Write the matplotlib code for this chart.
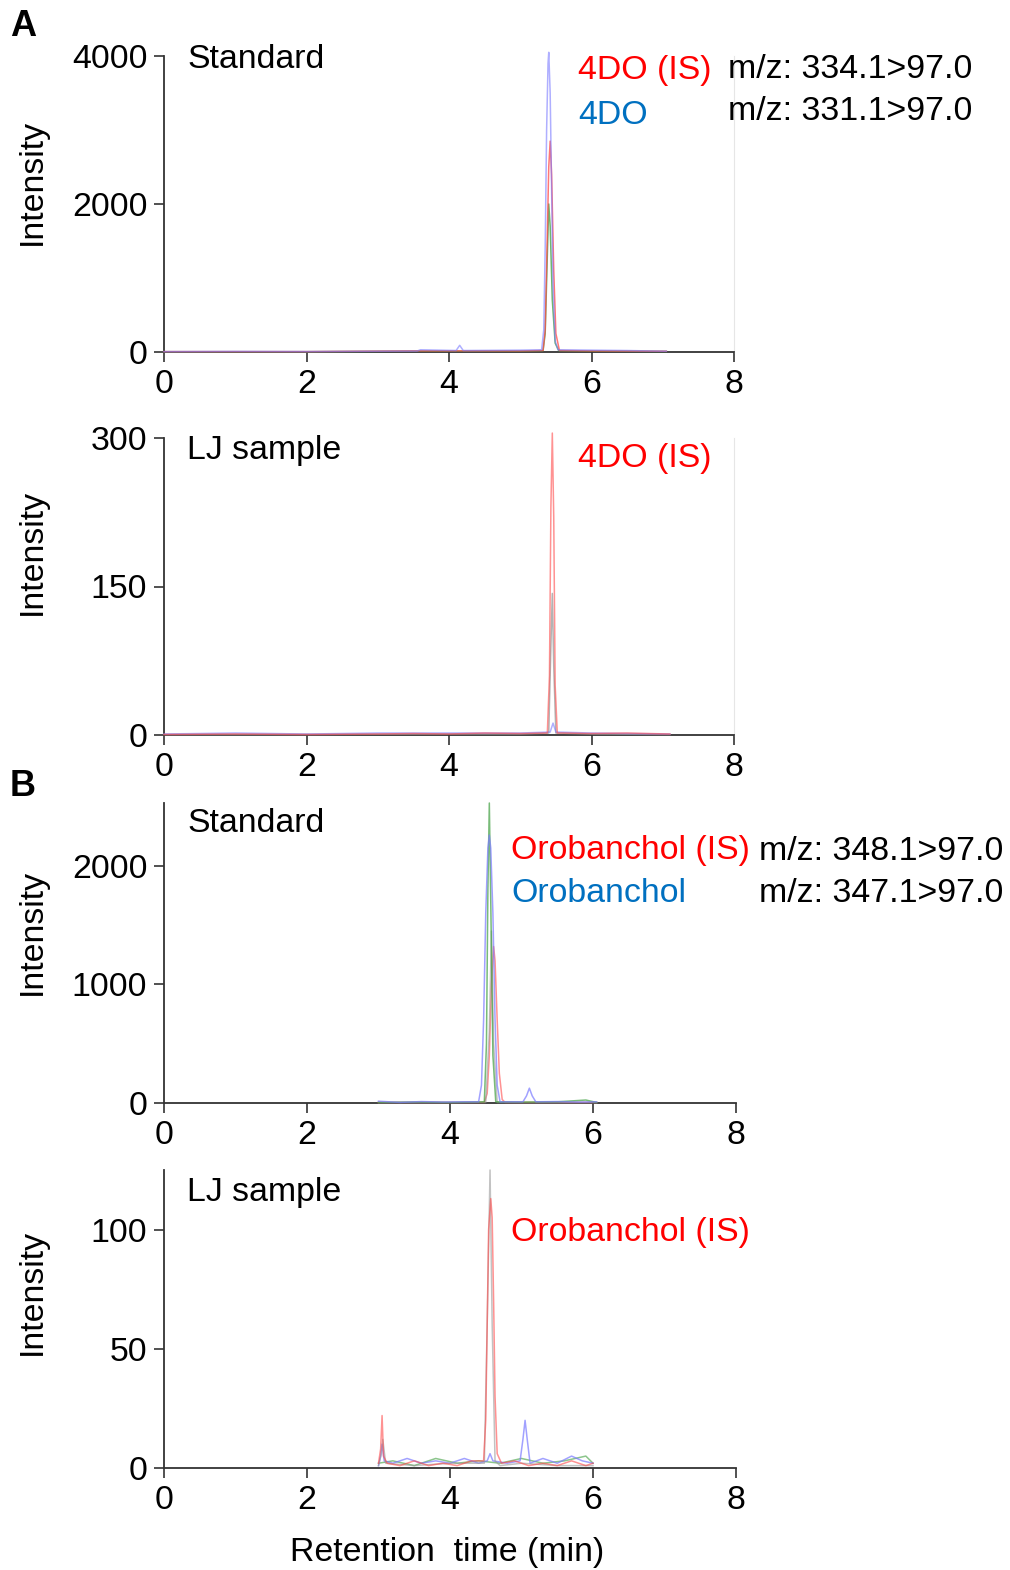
import matplotlib
matplotlib.use("Agg")
import matplotlib.pyplot as plt

plt.rcParams['font.family'] = ['Liberation Sans', 'DejaVu Sans']

# ---------------- data (retention time, min / intensity) ----------------
# Panel A1: 4DO standard
a1_blue_t = [0.0, 1.0, 2.0, 3.0, 3.55, 3.6, 4.1, 4.15, 4.2, 5.0, 5.30, 5.33, 5.35, 5.37, 5.39, 5.40, 5.42, 5.44, 5.46, 5.49, 5.53, 6.0, 6.5, 7.05]
a1_blue_i = [5, 8, 6, 10, 12, 30, 20, 90, 20, 25, 30, 300, 1400, 3000, 3900, 4050, 3500, 2200, 900, 150, 30, 25, 20, 10]
a1_red_t = [0.0, 2.0, 3.5, 5.0, 5.32, 5.35, 5.38, 5.40, 5.42, 5.44, 5.47, 5.50, 5.55, 6.0, 7.05]
a1_red_i = [5, 5, 15, 15, 20, 300, 1600, 2500, 2850, 2400, 1100, 250, 20, 15, 10]
a1_green_t = [0.0, 2.0, 3.5, 5.0, 5.32, 5.35, 5.38, 5.40, 5.42, 5.45, 5.49, 5.54, 6.0, 7.05]
a1_green_i = [4, 4, 12, 12, 18, 250, 1300, 2000, 1700, 700, 120, 18, 12, 8]

# Panel A2: LJ sample (4DO)
a2_red_t = [0.0, 1.0, 2.0, 3.0, 3.5, 4.0, 4.5, 5.0, 5.38, 5.41, 5.43, 5.45, 5.47, 5.49, 5.52, 5.6, 6.0, 6.5, 7.1]
a2_red_i = [0.5, 1, 0.5, 1, 1.5, 1, 2, 1.5, 2, 60, 230, 305, 220, 50, 2, 2, 1.5, 2, 1]
a2_gray_t = [0.0, 2.0, 4.0, 5.0, 5.40, 5.43, 5.45, 5.47, 5.50, 6.0, 7.1]
a2_gray_i = [0.5, 0.5, 1, 1, 2, 90, 143, 70, 2, 1, 0.5]
a2_blue_t = [0.0, 1.0, 2.0, 3.0, 4.0, 5.0, 5.42, 5.46, 5.50, 6.0, 7.1]
a2_blue_i = [1, 2, 1, 2, 2, 2, 3, 12, 3, 2, 1]

# Panel B1: orobanchol standard
b1_blue_t = [3.0, 3.3, 3.6, 3.9, 4.2, 4.40, 4.44, 4.47, 4.50, 4.53, 4.55, 4.57, 4.60, 4.63, 4.66, 4.70, 4.8, 5.02, 5.07, 5.11, 5.15, 5.20, 5.5, 5.8, 6.05]
b1_blue_i = [15, 5, 12, 8, 10, 10, 150, 700, 1600, 2150, 2260, 2150, 1600, 700, 150, 10, 10, 10, 60, 125, 60, 10, 12, 8, 10]
b1_red_t = [3.0, 3.5, 4.0, 4.48, 4.52, 4.55, 4.58, 4.61, 4.63, 4.66, 4.69, 4.73, 4.77, 5.0, 5.5, 6.05]
b1_red_i = [5, 5, 5, 5, 80, 400, 1000, 1320, 1200, 700, 250, 30, 5, 5, 5, 5]
b1_green_t = [3.0, 3.5, 4.0, 4.48, 4.51, 4.53, 4.55, 4.57, 4.60, 4.64, 5.0, 5.5, 5.9, 6.05]
b1_green_i = [5, 8, 5, 10, 500, 1800, 2530, 1700, 400, 10, 8, 10, 25, 5]
b1_gray_t = [3.0, 4.0, 4.50, 4.55, 4.58, 4.61, 4.66, 5.0, 6.05]
b1_gray_i = [3, 3, 5, 600, 1450, 500, 5, 3, 3]

# Panel B2: LJ sample (orobanchol)
b2_red_t = [3.0, 3.03, 3.05, 3.07, 3.12, 3.3, 3.5, 3.7, 3.9, 4.1, 4.3, 4.47, 4.50, 4.52, 4.54, 4.57, 4.59, 4.61, 4.63, 4.66, 4.72, 4.9, 5.1, 5.3, 5.5, 5.7, 5.9, 6.0]
b2_red_i = [2, 8, 22, 5, 2, 1, 3, 1, 2, 1, 3, 3, 20, 60, 100, 113, 105, 70, 30, 6, 2, 3, 1, 2, 1, 3, 1, 2]
b2_gray_t = [3.0, 3.04, 3.06, 3.1, 3.5, 4.0, 4.48, 4.52, 4.56, 4.59, 4.63, 4.7, 5.0, 5.5, 6.0]
b2_gray_i = [1, 6, 12, 2, 1, 2, 2, 60, 125, 60, 3, 1, 2, 1, 1]
b2_blue_t = [3.0, 3.03, 3.05, 3.08, 3.2, 3.4, 3.6, 3.8, 4.0, 4.2, 4.4, 4.52, 4.56, 4.60, 4.8, 4.98, 5.02, 5.05, 5.08, 5.12, 5.3, 5.5, 5.7, 5.85, 6.0]
b2_blue_i = [1, 5, 10, 3, 2, 4, 2, 3, 2, 4, 2, 3, 6, 3, 2, 3, 12, 20, 12, 2, 4, 2, 5, 3, 2]
b2_green_t = [3.0, 3.2, 3.5, 3.8, 4.1, 4.4, 4.7, 5.0, 5.3, 5.6, 5.9, 6.0]
b2_green_i = [2, 3, 1, 4, 2, 3, 2, 4, 2, 3, 5, 2]

x_ticks = [0, 2, 4, 6, 8]
a1_yticks = [0, 2000, 4000]
a2_yticks = [0, 150, 300]
b1_yticks = [0, 1000, 2000]
b2_yticks = [0, 50, 100]

# ---------------- figure ----------------
W, H = 1010, 1570
fig = plt.figure(figsize=(W / 100, H / 100), dpi=100)

def px_axes(left, right, top, bottom):
    return fig.add_axes([left / W, 1 - bottom / H, (right - left) / W, (bottom - top) / H])

C_BLUE = "#7a7aff"
C_RED = "#ff4a4a"
C_GREEN = "#3f9f3f"
C_GRAY = "#9a9a9a"
TXT_RED = "#ff0000"
TXT_BLUE = "#0070c0"
FS = 24.4
FS_C = 24.4

def style(ax, yticks, ytop, right_line):
    ax.set_xlim(0, 8)
    ax.set_ylim(0, ytop)
    ax.set_xticks(x_ticks)
    ax.set_yticks(yticks)
    ax.tick_params(axis='both', direction='out', length=7, width=1.2,
                   labelsize=FS, color="#333333", pad=5)
    ax.spines['top'].set_visible(False)
    for s in ('left', 'bottom'):
        ax.spines[s].set_color("#333333")
        ax.spines[s].set_linewidth(1.3)
    if right_line:
        ax.spines['right'].set_color("#e6e6e6")
        ax.spines['right'].set_linewidth(0.8)
    else:
        ax.spines['right'].set_visible(False)

def trace(ax, t, i, c, alpha=0.75, lw=1.1):
    ax.plot(t, i, color=c, lw=lw, alpha=alpha, clip_on=False, zorder=3)

# A1
ax1 = px_axes(164, 734, 56, 352)
trace(ax1, a1_green_t, a1_green_i, C_GREEN)
trace(ax1, a1_red_t, a1_red_i, C_RED)
trace(ax1, a1_blue_t, a1_blue_i, C_BLUE, alpha=0.6)
style(ax1, a1_yticks, 4000, True)

# A2
ax2 = px_axes(164, 734, 438, 735)
trace(ax2, a2_gray_t, a2_gray_i, C_GRAY)
trace(ax2, a2_blue_t, a2_blue_i, C_BLUE, alpha=0.6)
trace(ax2, a2_red_t, a2_red_i, C_RED, alpha=0.6)
style(ax2, a2_yticks, 300, True)

# B1
ax3 = px_axes(164, 736, 803, 1103)
trace(ax3, b1_red_t, b1_red_i, C_RED, alpha=0.6)
trace(ax3, b1_gray_t, b1_gray_i, C_GRAY, alpha=0.6)
trace(ax3, b1_green_t, b1_green_i, C_GREEN, alpha=0.7)
trace(ax3, b1_blue_t, b1_blue_i, C_BLUE, alpha=0.7)
style(ax3, b1_yticks, 2530, False)

# B2
ax4 = px_axes(164, 736, 1170, 1468)
trace(ax4, b2_green_t, b2_green_i, C_GREEN, alpha=0.6)
trace(ax4, b2_blue_t, b2_blue_i, C_BLUE, alpha=0.7)
trace(ax4, b2_gray_t, b2_gray_i, C_GRAY, alpha=0.6)
trace(ax4, b2_red_t, b2_red_i, C_RED, alpha=0.6)
style(ax4, b2_yticks, 125, False)

def ftext(x, y, s, color="black", size=FS, **kw):
    fig.text(x / W, 1 - (y + 3) / H, s, color=color, fontsize=size, va='center', **kw)

# Panel letters
ftext(10, 24, "A", size=26, weight='bold')
ftext(10, 783, "B", size=26, weight='bold')

# Y labels
for yc in (182, 552, 932, 1292):
    fig.text(32 / W, 1 - yc / H, "Intensity", rotation=90, fontsize=FS,
             ha='center', va='center')

# Panel texts
ftext(187, 56, "Standard")
ftext(578, 68, "4DO (IS)", color=TXT_RED, size=FS_C)
ftext(578, 112, "4DO", color=TXT_BLUE, size=FS_C)
ftext(728, 66, "m/z: 334.1>97.0")
ftext(728, 109, "m/z: 331.1>97.0")

ftext(187, 447, "LJ sample")
ftext(578, 456, "4DO (IS)", color=TXT_RED, size=FS_C)

ftext(187, 820, "Standard")
ftext(511, 848, "Orobanchol (IS)", color=TXT_RED, size=FS_C)
ftext(511, 891, "Orobanchol", color=TXT_BLUE, size=FS_C)
ftext(759, 848, "m/z: 348.1>97.0")
ftext(759, 891, "m/z: 347.1>97.0")

ftext(187, 1189, "LJ sample")
ftext(511, 1229, "Orobanchol (IS)", color=TXT_RED, size=FS_C)

fig.text(447 / W, 1 - 1552 / H, "Retention  time (min)", fontsize=FS,
         ha='center', va='center')

fig.savefig("out.png", dpi=100)
